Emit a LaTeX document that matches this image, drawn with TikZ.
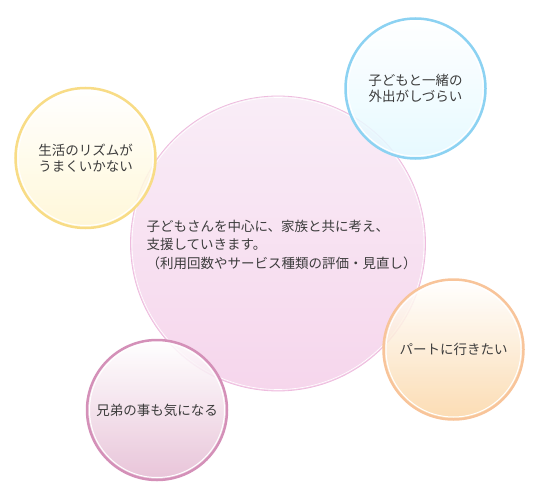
\documentclass[tikz,border=0pt]{standalone}
\usepackage{fontspec}
\setmainfont{Noto Sans CJK JP}
\usepackage{tikz}
\usetikzlibrary{positioning}
\usepackage{xcolor}

\definecolor{textgray}{HTML}{3C3C3C}
\definecolor{familytop}{HTML}{F9EDF7}
\definecolor{familybot}{HTML}{F6D6EC}
\definecolor{familyline}{HTML}{EEBCDE}
\definecolor{yellowline}{HTML}{F8DC86}
\definecolor{yellowbot}{HTML}{FFF6D2}
\definecolor{blueline}{HTML}{8CD2F2}
\definecolor{bluebot}{HTML}{E2F8FF}
\definecolor{orangeline}{HTML}{F8C49A}
\definecolor{orangebot}{HTML}{FBD6A6}
\definecolor{pinkline}{HTML}{D490B8}
\definecolor{pinkbot}{HTML}{E4BAD2}

\tikzset{
  bubble/.style={circle, minimum size=140bp, inner sep=0pt, line width=2.5bp,
    fill opacity=0.85, text opacity=1, align=center, text=textgray,
    font=\fontsize{13.5bp}{16.5bp}\selectfont},
}

\begin{document}
\begin{tikzpicture}[x=1bp,y=-1bp]
\useasboundingbox (0,0) rectangle (540,500);

% centre circle
\node[circle, minimum size=295bp, inner sep=0pt, draw=familyline, line width=0.8bp,
  top color=familytop, bottom color=familybot] (family) at (278,243.5) {};
\draw[white, line width=0.6bp] (family.center) circle (146bp);
\node[anchor=west, align=left, text=textgray,
  font=\fontsize{13.5bp}{18.5bp}\selectfont] (support) at ([xshift=-135bp,yshift=-1bp]family.center)
  {子どもさんを中心に、家族と共に考え、\\支援していきます。\\（利用回数やサービス種類の評価・見直し）};

% four worries
\node[bubble, draw=yellowline, top color=white, bottom color=yellowbot] (rhythm) at (85.5,158)
  {生活のリズムが\\うまくいかない};
\node[bubble, draw=blueline, top color=white, bottom color=bluebot] (outing) at (415.5,88.5)
  {子どもと一緒の\\外出がしづらい};
\node[bubble, draw=orangeline, top color=white, bottom color=orangebot] (parttime) at (453.5,349.5)
  {パートに行きたい};
\node[bubble, draw=pinkline, top color=white, bottom color=pinkbot] (sibling) at (157,410)
  {兄弟の事も気になる};

% white inner rings
\foreach \n in {rhythm,outing,parttime,sibling} {
    \draw[white, line width=1bp] (\n.center) circle (67.5bp);
}
\end{tikzpicture}
\end{document}
